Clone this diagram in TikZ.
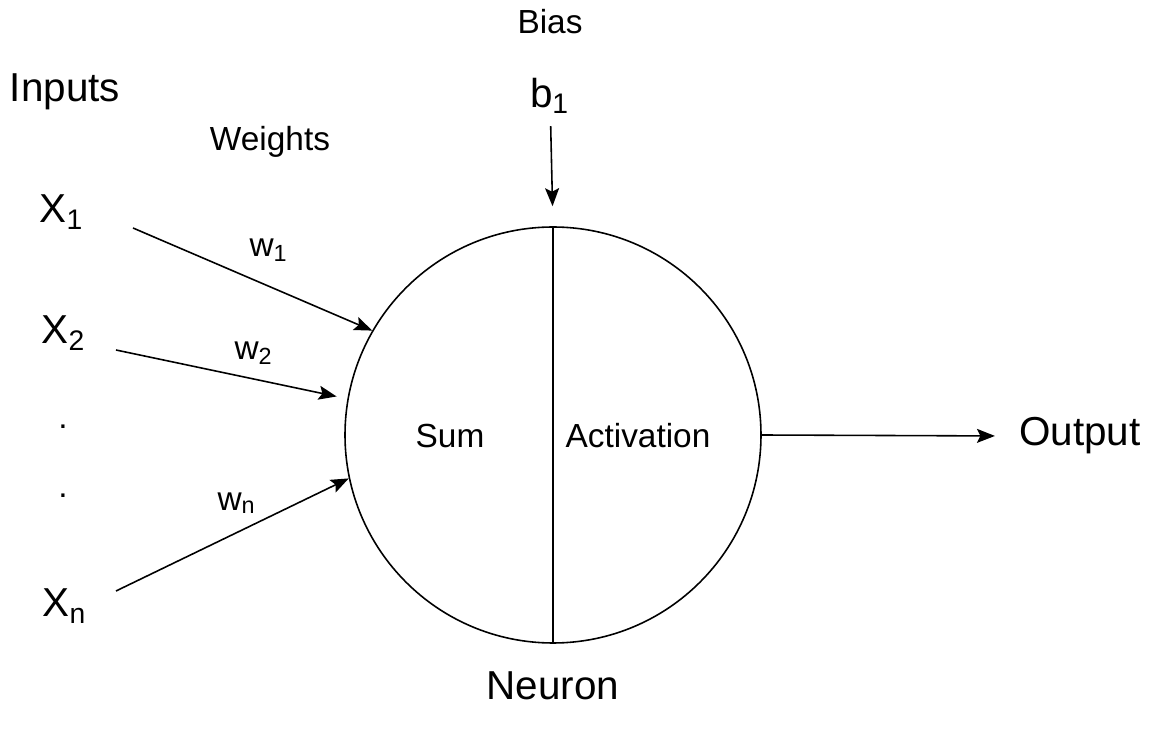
\documentclass[tikz,border=0pt]{standalone}
\usepackage{fontspec}
\setmainfont{Liberation Sans}
\usepackage{tikz}
\usetikzlibrary{arrows.meta}
\usepackage{xcolor}

\tikzset{
  big/.style={font=\fontsize{11.5}{13}\selectfont},
  small/.style={font=\fontsize{9.5}{11}\selectfont},
  conn/.style={-{Stealth[length=1.8mm,width=1.4mm,inset=0.35mm]}, line width=0.45pt},
}

\begin{document}
\begin{tikzpicture}
  \useasboundingbox (0,0) rectangle (11.51,-7.31);
  \node[draw, circle, minimum size=4.16cm, inner sep=0pt, line width=0.45pt] (neuron) at (5.53,-4.35) {};
  \draw[line width=0.45pt] (neuron.north) -- (neuron.south);
  \node[small] (sum) at (4.50,-4.36) {Sum};
  \node[small] (act) at (6.38,-4.36) {Activation};
  \node[big] (neuronlbl) at (5.53,-6.86) {Neuron};
  \node[big] (inputs) at (0.65,-0.92) {Inputs};
  \node[small] (weights) at (2.70,-1.42) {Weights};
  \node[small] (bias) at (5.50,-0.22) {Bias};
  \node[big] (b1) at (5.50,-0.96) {b\textsubscript{1}};
  \node[big] (x1) at (0.62,-2.12) {X\textsubscript{1}};
  \node[big] (x2) at (0.64,-3.33) {X\textsubscript{2}};
  \node[small] (dot1) at (0.63,-4.27) {.};
  \node[small] (dot2) at (0.63,-4.96) {.};
  \node[big] (xn) at (0.65,-6.06) {X\textsubscript{n}};
  \node[small] (w1) at (2.69,-2.50) {w\textsubscript{1}};
  \node[small] (w2) at (2.54,-3.53) {w\textsubscript{2}};
  \node[small] (wn) at (2.37,-5.03) {w\textsubscript{n}};
  \node[big] (output) at (10.80,-4.36) {Output};
  % free ends of the input lines
  \coordinate (x1s) at (1.33,-2.28);
  \coordinate (x2s) at (1.16,-3.50);
  \coordinate (xns) at (1.16,-5.91);
  \draw[conn] (x1s) -- (neuron.150);
  \draw[conn, shorten >=0.11cm] (x2s) -- (neuron.170);
  \draw[conn] (xns) -- (neuron.192);
  \draw[conn, shorten >=0.2cm] (b1) -- (neuron.north);
  \draw[conn, shorten >=0.12cm] (neuron.east) -- (output.west);
\end{tikzpicture}
\end{document}
